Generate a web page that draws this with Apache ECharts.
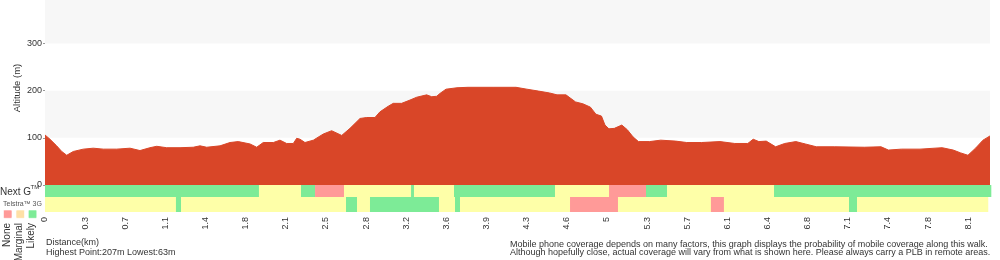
<!DOCTYPE html>
<html>
<head>
<meta charset="utf-8">
<script src="https://cdn.jsdelivr.net/npm/echarts@6/dist/echarts.min.js"></script>
<style>
html,body{margin:0;padding:0;background:#fff;}
#chart{width:1000px;height:260px;}
</style>
</head>
<body>
<div id="chart"></div>
<script>
// ---- Data ----
const TOTAL_KM = 8.357;
const distKm = [0,0.044,0.103,0.148,0.192,0.250,0.339,0.427,0.516,0.634,0.752,0.840,0.928,0.988,1.076,1.194,1.311,1.371,1.430,1.548,1.636,1.709,1.813,1.872,1.930,2.019,2.078,2.137,2.196,2.226,2.255,2.299,2.373,2.461,2.535,2.624,2.697,2.786,2.845,2.918,2.962,3.036,3.080,3.154,3.228,3.287,3.375,3.420,3.464,3.493,3.546,3.643,3.741,3.970,4.165,4.262,4.364,4.462,4.528,4.607,4.692,4.757,4.823,4.872,4.921,4.952,4.987,5.035,5.101,5.150,5.200,5.248,5.347,5.445,5.577,5.675,5.806,5.969,6.100,6.215,6.263,6.313,6.378,6.461,6.542,6.640,6.723,6.821,6.984,7.246,7.393,7.459,7.574,7.738,7.934,8.032,8.098,8.162,8.229,8.295,8.357];
const altM = [106,97,83,71,63,71,76,78,76,76,78,73,79,82,79,79,80,83,80,83,90,92,87,80,90,90,95,88,88,99,97,90,95,108,115,105,120,141,143,143,155,167,173,173,180,186,191,187,188,194,203,206,207,207,207,203,199,195,191,191,176,172,165,150,146,127,119,120,127,117,102,92,92,95,93,90,90,92,88,88,97,92,93,81,88,92,87,81,81,80,81,74,76,76,79,74,68,63,78,95,104];

const tickLabels = ['0','0.3','0.7','1.1','1.4','1.8','2.1','2.5','2.8','3.2','3.6','3.9','4.3','4.6','5','5.3','5.7','6.1','6.4','6.8','7.1','7.4','7.8','8.1'];
const TICK_STEP_KM = 0.355;

// coverage levels: 0 = None, 1 = Marginal, 2 = Likely
const nextGBreaks = [0,1.892,2.264,2.388,2.644,3.237,3.263,3.617,4.510,4.988,5.315,5.501,6.447,8.366];
const nextGLevels = [2,1,2,0,1,2,1,2,1,0,2,1,2];
const g3Breaks = [0,1.158,1.203,2.662,2.759,2.874,3.484,3.626,3.670,4.643,5.067,5.889,6.004,7.110,7.181,8.339];
const g3Levels = [1,2,1,2,1,2,1,2,1,0,1,0,1,2,1];
const legendLabels = ['None','Marginal','Likely'];

// ---- Styles ----
const FONT = "'Liberation Sans', Arial, Helvetica, sans-serif";
const levelColors = ['#ff9a98','#feffa8','#7deb97'];
const legendColors = ['#ff9a98','#fee0a6','#7deb97'];
const AREA = '#d94628';

function segs(breaks, levels){
  return levels.map((l,i)=>[breaks[i], breaks[i+1], l, 0]);
}
function renderSeg(params, api){
  const s = api.value(0), e = api.value(1), lvl = api.value(2);
  const p0 = api.coord([s, 0]);
  const p1 = api.coord([e, 0]);
  const h = api.size([0, 1])[1];
  return {
    type:'rect',
    shape:{x:p0[0], y:p0[1]-h/2, width:p1[0]-p0[0]+0.3, height:h},
    style:{fill: levelColors[lvl]}
  };
}

const chart = echarts.init(document.getElementById('chart'), null, {renderer:'canvas'});
const txt = (o)=>Object.assign({type:'text', silent:true}, o);

const graphics = [
  txt({x:17, y:88, rotation:Math.PI/2, style:{text:'Altitude (m)', font:'9.5px '+FONT, fill:'#333', align:'center', verticalAlign:'middle'}}),
  txt({x:0, y:192.5, style:{text:'Next G', font:'10px '+FONT, fill:'#333', align:'left', verticalAlign:'middle'}}),
  txt({x:30.5, y:187, style:{text:'TM', font:'6px '+FONT, fill:'#333', align:'left', verticalAlign:'middle'}}),
  txt({x:3, y:204.3, style:{text:'Telstra\u2122 3G', font:'7px '+FONT, fill:'#555', align:'left', verticalAlign:'middle'}}),
  txt({x:46, y:243, style:{text:'Distance(km)', font:'9px '+FONT, fill:'#333', align:'left', verticalAlign:'middle'}}),
  txt({x:46, y:253, style:{text:'Highest Point:207m Lowest:63m', font:'9px '+FONT, fill:'#333', align:'left', verticalAlign:'middle'}}),
  txt({x:510, y:244.5, style:{text:'Mobile phone coverage depends on many factors, this graph displays the probability of mobile coverage along this walk.', font:'9px '+FONT, fill:'#333', align:'left', verticalAlign:'middle'}}),
  txt({x:510, y:253, style:{text:'Although hopefully close, actual coverage will vary from what is shown here. Please always carry a PLB in remote areas.', font:'9px '+FONT, fill:'#333', align:'left', verticalAlign:'middle'}})
];
const legX = [3.5, 16, 28.3];
const legTextX = [7.5, 19.3, 31.5];
legendLabels.forEach((lab,i)=>{
  graphics.push({type:'rect', silent:true, shape:{x:legX[i], y:210, width:8.5, height:8.3, r:1}, style:{fill:legendColors[i], stroke:'#fff', lineWidth:0.6}});
  graphics.push(txt({x:legTextX[i], y:223, rotation:Math.PI/2, style:{text:lab, font:'10px '+FONT, fill:'#333', align:'right', verticalAlign:'middle'}}));
});

const option = {
  animation:false,
  backgroundColor:'#fff',
  textStyle:{fontFamily:FONT},
  grid:[
    {left:45, right:10, top:0, height:185},
    {left:45, right:10, top:185, height:12},
    {left:45, right:10, top:197, height:15}
  ],
  xAxis:[
    {gridIndex:0, type:'value', min:0, max:TOTAL_KM, show:false},
    {gridIndex:1, type:'value', min:0, max:TOTAL_KM, show:false},
    {gridIndex:2, type:'value', min:0, max:TOTAL_KM,
      axisLine:{show:false}, axisTick:{show:false}, splitLine:{show:false},
      axisLabel:{
        customValues: tickLabels.map((_,k)=>k*TICK_STEP_KM),
        formatter:(v)=>tickLabels[Math.round(v/TICK_STEP_KM)],
        rotate:90, fontSize:9, color:'#333', margin:5, fontFamily:FONT
      }
    }
  ],
  yAxis:[
    {gridIndex:0, type:'value', min:0, max:392, interval:100,
      axisLine:{show:false},
      axisTick:{show:true, length:2, lineStyle:{color:'#999'}},
      splitLine:{show:false},
      splitArea:{show:true, areaStyle:{color:['#ffffff','#f7f7f7']}},
      axisLabel:{showMaxLabel:false, fontSize:9, color:'#333', margin:3, fontFamily:FONT}
    },
    {gridIndex:1, type:'category', data:['Next G'], show:false},
    {gridIndex:2, type:'category', data:['3G'], show:false}
  ],
  graphic: graphics,
  series:[
    {type:'line', xAxisIndex:0, yAxisIndex:0, data: distKm.map((d,i)=>[d, altM[i]]),
      symbol:'none', lineStyle:{color:AREA, width:1}, areaStyle:{color:AREA, opacity:1}, silent:true},
    {type:'custom', xAxisIndex:1, yAxisIndex:1, renderItem:renderSeg, encode:{x:[0,1], y:3}, data:segs(nextGBreaks,nextGLevels), silent:true},
    {type:'custom', xAxisIndex:2, yAxisIndex:2, renderItem:renderSeg, encode:{x:[0,1], y:3}, data:segs(g3Breaks,g3Levels), silent:true}
  ]
};
chart.setOption(option);
</script>
</body>
</html>
